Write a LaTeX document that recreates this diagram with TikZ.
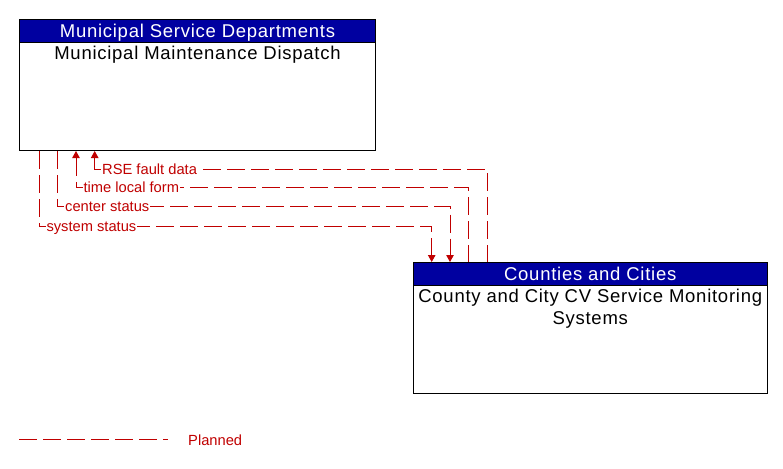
\documentclass[tikz,border=0pt]{standalone}
\usepackage{fontspec}
\setmainfont{Liberation Sans}
\newfontfamily\elemfont[LetterSpace=4]{Liberation Sans}
\usetikzlibrary{arrows.meta}
\definecolor{hdrblue}{RGB}{0,0,160}
\definecolor{flowred}{RGB}{192,0,0}

\begin{document}
\begin{tikzpicture}[x=1pt,y=-1pt,
  elembox/.style={draw=black,line width=1pt,fill=white,anchor=north west,minimum height=131pt,inner sep=0},
  hdrbox/.style={draw=black,line width=1pt,fill=hdrblue,text=white,anchor=north west,minimum height=23pt,text height=13pt,text depth=0pt,inner sep=0,font=\elemfont\fontsize{18.5}{22}\selectfont},
  elemtext/.style={anchor=north,align=center,inner sep=3pt,font=\elemfont\fontsize{18.5}{22}\selectfont},
  planned/.style={flowred,line width=1pt,dash pattern=on 18pt off 6pt},
  flowlbl/.style={text=flowred,fill=white,anchor=west,inner sep=1pt,text height=10.5pt,text depth=0pt,font=\fontsize{14.7}{17}\selectfont},
  >={Triangle[width=7.5pt,length=7pt]}]
\useasboundingbox (0,0) rectangle (783,468);
\node[elembox,minimum width=356pt] (mmd) at (19,19) {};
\node[hdrbox,minimum width=356pt] (msd) at (mmd.north west) {Municipal Service Departments};
\node[elemtext] (mmdtxt) at (msd.south) {Municipal Maintenance Dispatch};
\node[elembox,minimum width=354.5pt] (ccv) at (412.5,262) {};
\node[hdrbox,minimum width=354.5pt] (cac) at (ccv.north west) {Counties and Cities};
\node[elemtext] (ccvtxt) at (cac.south) {County and City CV Service Monitoring\\Systems};
\foreach \xa/\yb/\xb/\txt/\dir [count=\i] in {39/226/431.7/system status/->, 57.7/206.7/450/center status/->, 76/187.7/468.7/time local form/<-, 94.7/169.3/487.3/RSE fault data/<-}
 \draw[planned,\dir] (\xa,0 |- mmd.south) |- node[flowlbl,pos=0.5,xshift=6pt] (flow\i) {\txt} (\xb,\yb) -- (\xb,0 |- ccv.north);
\coordinate (legA) at (19,439);
\coordinate (legB) at (168,439);
\draw[planned] (legA) -- (legB);
\node[text=flowred,anchor=base west,inner sep=0,font=\fontsize{14.7}{17}\selectfont] (legtxt) at (188,445) {Planned};
\end{tikzpicture}
\end{document}
